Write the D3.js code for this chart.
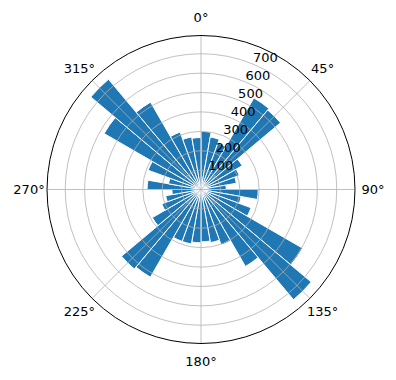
<!DOCTYPE html>
<html><head><meta charset="utf-8">
<script src="https://cdn.jsdelivr.net/npm/d3@7"></script>
<style>body{margin:0;background:#fff}svg{display:block}</style>
</head><body>
<script>
// Bin start angles (degrees, clockwise from north), each bin 10° wide
const binStarts = d3.range(0, 360, 10);
const counts = [300, 275, 255, 545, 535, 245, 210, 185, 130,
                295, 210, 275, 605, 742, 458, 305, 278, 270,
                275, 285, 285, 522, 535, 290, 215, 185, 150,
                278, 170, 290, 577, 742, 520, 315, 275, 268];
const radialTicks = [100, 200, 300, 400, 500, 600, 700];
const angleTicks = [0, 45, 90, 135, 180, 225, 270, 315];
const angleLabels = ["0°", "45°", "90°", "135°", "180°", "225°", "270°", "315°"];
const binWidth = 10;
const rMax = 794;

const W = 396, H = 380, cx = 201, cy = 189.5, R = 154;
const svg = d3.select("body").append("svg").attr("width", W).attr("height", H);
const g = svg.append("g").attr("transform", `translate(${cx},${cy})`);
const r = d3.scaleLinear().domain([0, rMax]).range([0, R]);
const rad = d => d * Math.PI / 180;

const data = binStarts.map((a, i) => ({a, v: counts[i]}));
const arc = d3.arc()
  .innerRadius(0)
  .outerRadius(d => r(d.v))
  .startAngle(d => rad(d.a))
  .endAngle(d => rad(d.a + binWidth));

g.selectAll("path.bar").data(data).join("path")
  .attr("class", "bar")
  .attr("d", arc)
  .attr("fill", "#1f77b4")
  .attr("stroke", "#ffffff")
  .attr("stroke-width", 1)
  .attr("stroke-linejoin", "miter");

// grid on top of bars
g.selectAll("circle.grid").data(radialTicks).join("circle")
  .attr("r", d => r(d)).attr("fill", "none")
  .attr("stroke", "#b0b0b0").attr("stroke-width", 0.8);
g.selectAll("line.spoke").data(angleTicks).join("line")
  .attr("x1", 0).attr("y1", 0)
  .attr("x2", d => R * Math.sin(rad(d)))
  .attr("y2", d => -R * Math.cos(rad(d)))
  .attr("stroke", "#b0b0b0").attr("stroke-width", 0.8);

// outer spine
g.append("circle").attr("r", R).attr("fill", "none")
  .attr("stroke", "#000").attr("stroke-width", 1);

const font = "DejaVu Sans, sans-serif";
// radial labels at 22.5°
g.selectAll("text.rl").data(radialTicks).join("text")
  .attr("x", d => r(d) * Math.sin(rad(22.5)))
  .attr("y", d => -r(d) * Math.cos(rad(22.5)) - 2)
  .attr("text-anchor", "start")
  .attr("font-family", font).attr("font-size", 13)
  .attr("fill", "#000")
  .text(d => d);

// angular labels
g.selectAll("text.al").data(angleTicks).join("text")
  .attr("x", d => (R + 18) * Math.sin(rad(d)))
  .attr("y", d => -(R + 18) * Math.cos(rad(d)))
  .attr("dy", "0.36em")
  .attr("text-anchor", "middle")
  .attr("font-family", font).attr("font-size", 13)
  .attr("fill", "#000")
  .text((d, i) => angleLabels[i]);
</script>
</body></html>
